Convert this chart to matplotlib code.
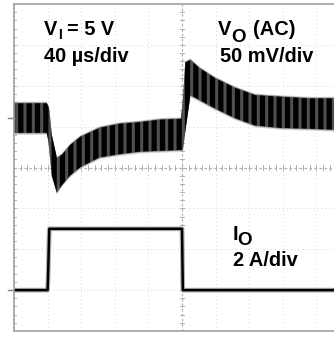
import numpy as np
import matplotlib
matplotlib.use('Agg')
import matplotlib.pyplot as plt

# scope settings
T_DIV = 40.0      # us/div
VO_DIV = 50.0     # mV/div
IO_DIV = 2.0      # A/div
VO_POS = 1.21     # channel 1 ground marker, div
IO_POS = -3.0     # channel 2 ground marker, div

# output voltage (AC), band of the rippled trace, mV
vo_t = [0, 39, 41, 42, 45, 51, 57, 67, 79, 102, 126, 150, 174, 199,
        201, 204, 210, 221, 239, 263, 287, 317, 352, 400]
vo_hi = [18, 18, 14, 10, -21, -49, -45, -33, -23, -12, -7, -5, -2, -1,
         22, 68, 71, 61, 49, 37, 28, 26, 24, 24]
vo_lo = [-18, -18, -28, -39, -70, -91, -82, -70, -60, -48, -44, -41, -40, -39,
         -39, -15, 28, 22, 12, 0, -9, -12, -13, -15]

# load current step, A
io_t = [0, 40, 40.5, 42, 200, 201, 400]
io_a = [0, 0, 0.6, 3.0, 3.0, 0, 0]

plt.rcParams['font.family'] = ['Liberation Sans', 'DejaVu Sans']
plt.rcParams['hatch.linewidth'] = 3.8

W, H = 334, 337
fig = plt.figure(figsize=(W / 100, H / 100), dpi=100)
# screen: left edge 14px, 10 div of 33.6px (right part cut off), top 4px, bottom 331px
ax = fig.add_axes([14 / W, (H - 331) / H, 336 / W, 327 / H])
ax.set_xlim(0, 10 * T_DIV)
ax.set_ylim(-4, 4)
ax.set_xticks([])
ax.set_yticks([])
for s in ax.spines.values():
    s.set_color('#a0a0a0')
    s.set_linewidth(1.2)

# graticule
for k in range(1, 10):
    ax.axvline(k * T_DIV, color='#d4d4d4', lw=0.7, ls=(0, (1, 3)), zorder=0)
for k in range(-3, 4):
    ax.axhline(k, color='#d4d4d4', lw=0.7, ls=(0, (1, 3)), zorder=0)
ax.axvline(5 * T_DIV, color='#b0b0b0', lw=0.9, ls=(0, (2, 2)), zorder=0)
ax.axhline(0, color='#b0b0b0', lw=0.9, ls=(0, (2, 2)), zorder=0)
for k in range(1, 50):
    ax.plot([k * T_DIV / 5] * 2, [-0.06, 0.06], color='#b0b0b0', lw=0.7, zorder=0)
for k in range(-19, 20):
    ax.plot([5 * T_DIV - 2, 5 * T_DIV + 2], [k / 5] * 2, color='#b0b0b0', lw=0.7, zorder=0)
    ax.plot([0, 2], [k / 5] * 2, color='#b0b0b0', lw=0.7, zorder=0)

# channel markers
for pos in (VO_POS, IO_POS):
    ax.plot([-7, 0], [pos, pos], color='#808080', lw=1.0, clip_on=False)

# V_O trace
t = np.array(vo_t)
hi = VO_POS + np.array(vo_hi) / VO_DIV
lo = VO_POS + np.array(vo_lo) / VO_DIV
ax.fill_between(t, lo - 0.05, hi + 0.04, facecolor='#b0b0b0', linewidth=0, alpha=0.5)
ax.fill_between(t, lo - 0.02, hi + 0.02, facecolor='#606060', linewidth=0, alpha=0.7)
ax.fill_between(t, lo, hi, facecolor='#505050', edgecolor='black', hatch='||', linewidth=0)

# I_O trace
ax.plot(io_t, IO_POS + np.array(io_a) / IO_DIV, color='#b0b0b0', lw=3.4)
ax.plot(io_t, IO_POS + np.array(io_a) / IO_DIV, color='black', lw=1.8)

# labels
def label(x, y, s, fs=14.4):
    fig.text(x / W, 1 - y / H, s, fontsize=fs, fontweight='bold', va='baseline', ha='left')

label(43.5, 35, 'V')
label(58.5, 39, 'I', 10)
label(67, 35, '= 5 V')
label(44, 62, '40 µs/div')
label(218, 35, 'V')
label(231.5, 42.5, 'O', 13.5)
label(253, 35, '(AC)')
label(220, 62, '50 mV/div')
label(232.5, 240, 'I')
label(237.5, 245, 'O', 13.5)
label(233, 266, '2 A/div')

fig.savefig('out.png', dpi=100)
